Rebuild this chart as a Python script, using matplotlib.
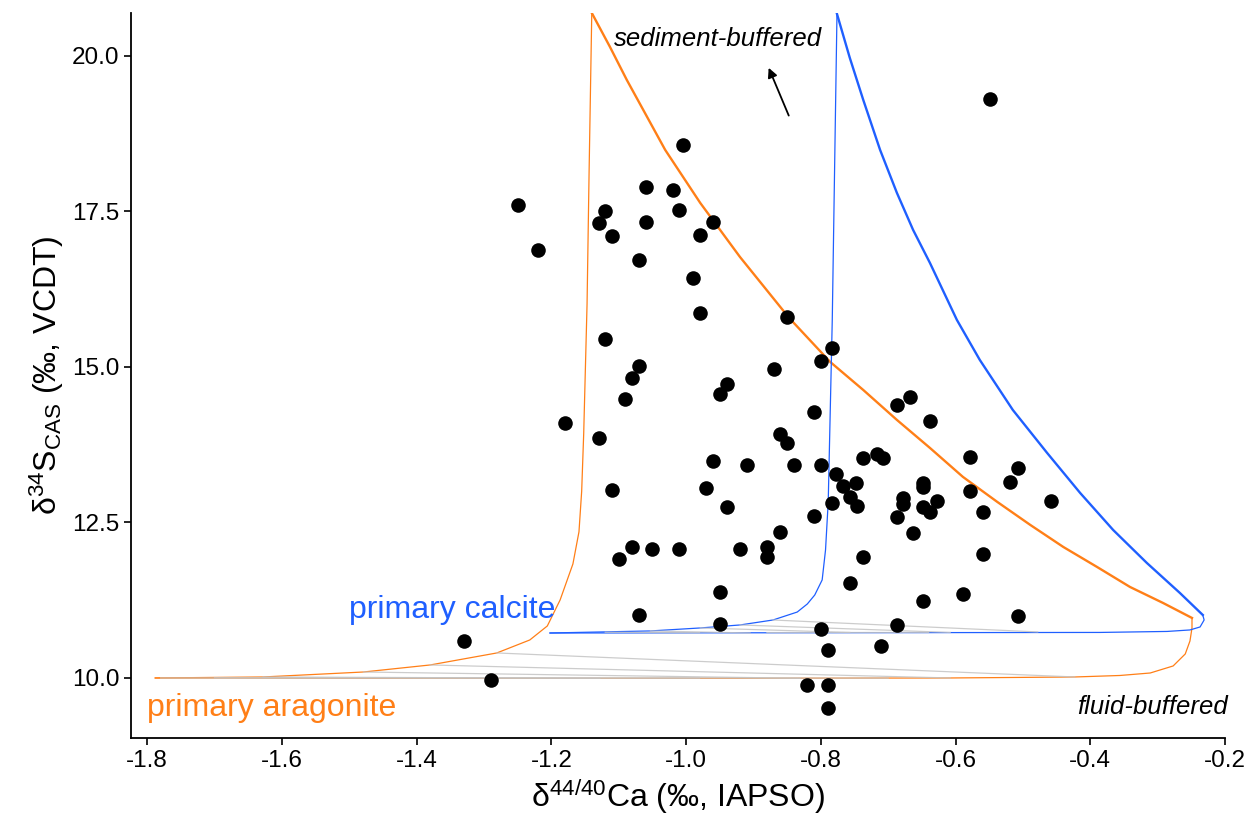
import matplotlib
matplotlib.use("Agg")
import matplotlib.pyplot as plt

plt.rcParams["font.family"] = ["Liberation Sans", "DejaVu Sans"]
plt.rcParams["mathtext.default"] = "regular"

# -----------------------------------------------------
# measured samples
# -----------------------------------------------------
ca_values = [-1.25, -1.22, -1.18, -1.33, -1.29, -1.13, -1.12, -1.11, -1.12, -1.13,
             -1.11, -1.09, -1.08, -1.07, -1.07, -1.06, -1.06, -1.02, -1.01, -1.005,
             -0.98, -0.96, -0.99, -0.98, -0.95, -0.94, -0.96, -0.97, -0.94, -0.91,
             -1.08, -1.05, -1.10, -1.07, -1.01, -0.95, -0.95, -0.92, -0.88, -0.88,
             -0.86, -0.87, -0.86, -0.85, -0.84, -0.85, -0.80, -0.783, -0.81, -0.80,
             -0.81, -0.783, -0.777, -0.767, -0.748, -0.757, -0.746, -0.737, -0.717, -0.708,
             -0.737, -0.757, -0.80, -0.79, -0.82, -0.79, -0.79, -0.71, -0.687, -0.687,
             -0.667, -0.687, -0.678, -0.678, -0.663, -0.648, -0.648, -0.648, -0.638, -0.627,
             -0.638, -0.648, -0.589, -0.578, -0.578, -0.559, -0.559, -0.549, -0.519, -0.507,
             -0.507, -0.458]
s_values = [17.60, 16.88, 14.10, 10.60, 9.97, 17.32, 17.50, 17.10, 15.45, 13.85,
            13.02, 14.48, 14.82, 15.01, 16.72, 17.90, 17.33, 17.85, 17.52, 18.57,
            17.12, 17.33, 16.43, 15.87, 14.57, 14.72, 13.48, 13.05, 12.75, 13.43,
            12.10, 12.07, 11.92, 11.02, 12.07, 11.38, 10.87, 12.07, 12.10, 11.95,
            12.35, 14.97, 13.93, 13.77, 13.42, 15.80, 15.10, 15.31, 14.28, 13.42,
            12.60, 12.81, 13.28, 13.09, 13.13, 12.91, 12.76, 13.54, 13.60, 13.54,
            11.95, 11.53, 10.78, 10.45, 9.88, 9.88, 9.52, 10.52, 10.85, 14.39,
            14.52, 12.59, 12.89, 12.80, 12.33, 13.13, 13.07, 12.75, 12.67, 12.85,
            14.13, 11.24, 11.35, 13.55, 13.01, 12.67, 12.00, 19.31, 13.15, 13.38,
            11.00, 12.85]

# -----------------------------------------------------
# model curves (primary aragonite, orange)
# -----------------------------------------------------
arag_left_x = [-1.788, -1.628, -1.479, -1.380, -1.281, -1.232, -1.206, -1.187, -1.168,
               -1.159, -1.155, -1.152, -1.147, -1.144, -1.140]
arag_left_y = [10.000, 10.016, 10.096, 10.209, 10.402, 10.611, 10.836, 11.254, 11.833,
               12.350, 13.000, 13.923, 16.013, 18.119, 20.691]
arag_top_x = [-0.249, -0.292, -0.341, -0.390, -0.440, -0.489, -0.538, -0.589, -0.638,
              -0.687, -0.737, -0.786, -0.847, -0.920, -0.979, -1.031, -1.088, -1.113,
              -1.140]
arag_top_y = [10.965, 11.206, 11.463, 11.785, 12.106, 12.460, 12.830, 13.232, 13.698,
              14.148, 14.630, 15.080, 15.788, 16.768, 17.637, 18.489, 19.614, 20.145,
              20.691]
arag_bot_x = [-1.788, -1.424, -0.979, -0.608, -0.423, -0.356, -0.311, -0.277, -0.259,
              -0.252, -0.249, -0.249]
arag_bot_y = [10.000, 9.995, 9.995, 10.000, 10.016, 10.040, 10.080, 10.193, 10.386,
              10.595, 10.804, 10.965]

# -----------------------------------------------------
# model curves (primary calcite, blue)
# -----------------------------------------------------
calc_left_x = [-1.202, -1.053, -0.979, -0.920, -0.871, -0.835, -0.820, -0.809, -0.798,
               -0.793, -0.789, -0.783, -0.776]
calc_left_y = [10.723, 10.756, 10.804, 10.852, 10.932, 11.060, 11.190, 11.334, 11.576,
               12.058, 12.830, 15.756, 20.675]
calc_top_x = [-0.233, -0.267, -0.316, -0.366, -0.415, -0.464, -0.515, -0.564, -0.598,
              -0.638, -0.663, -0.687, -0.712, -0.737, -0.757, -0.776]
calc_top_y = [11.013, 11.367, 11.849, 12.379, 12.974, 13.617, 14.309, 15.113, 15.756,
              16.672, 17.203, 17.797, 18.489, 19.293, 19.970, 20.675]
calc_bot_x = [-1.202, -0.386, -0.286, -0.252, -0.237, -0.231, -0.233]
calc_bot_y = [10.723, 10.732, 10.748, 10.772, 10.820, 10.932, 11.013]

# grey isolines: (x0, y0, x1, y1)
grey_arag = [(-1.281, 10.402, -0.423, 10.016), (-1.380, 10.209, -0.608, 10.000),
             (-1.479, 10.096, -0.831, 9.995), (-1.628, 10.016, -1.128, 9.995),
             (-1.780, 10.000, -0.980, 9.998), (-1.700, 10.003, -0.700, 9.998)]
grey_calc = [(-0.871, 10.932, -0.478, 10.740), (-0.920, 10.852, -0.608, 10.732),
             (-0.979, 10.804, -0.757, 10.732), (-1.053, 10.756, -0.905, 10.723),
             (-1.120, 10.735, -0.980, 10.727), (-0.880, 10.730, -0.640, 10.732)]

x_ticks = [-1.8, -1.6, -1.4, -1.2, -1.0, -0.8, -0.6, -0.4, -0.2]
x_tick_labels = ["-1.8", "-1.6", "-1.4", "-1.2", "-1.0", "-0.8", "-0.6", "-0.4", "-0.2"]
y_ticks = [10.0, 12.5, 15.0, 17.5, 20.0]
y_tick_labels = ["10.0", "12.5", "15.0", "17.5", "20.0"]

ORANGE = "#FF7F17"
BLUE = "#1F5FFF"

fig = plt.figure(figsize=(12.6, 8.19), dpi=100)
ax = fig.add_axes([131 / 1260, 1 - 738 / 819, 1094 / 1260, 725 / 819])

ax.plot(arag_left_x, arag_left_y, color=ORANGE, lw=0.9)
ax.plot(arag_bot_x, arag_bot_y, color=ORANGE, lw=0.9)
ax.plot(arag_top_x, arag_top_y, color=ORANGE, lw=1.7)
ax.plot(calc_left_x, calc_left_y, color=BLUE, lw=0.9)
ax.plot(calc_bot_x, calc_bot_y, color=BLUE, lw=0.9)
ax.plot(calc_top_x, calc_top_y, color=BLUE, lw=1.7)

for x0, y0, x1, y1 in grey_arag + grey_calc:
    ax.plot([x0, x1], [y0, y1], color="#c4c4c4", lw=0.9, alpha=0.85)

ax.scatter(ca_values, s_values, s=110, color="black", zorder=5, linewidths=0)

ax.text(-0.953, 20.28, "sediment-buffered", style="italic", fontsize=18.5,
        ha="center", va="center")
ax.annotate("", xy=(-0.879, 19.85), xytext=(-0.846, 19.0),
            arrowprops=dict(arrowstyle="-|>", color="black", lw=1.3,
                            mutation_scale=14))
ax.text(-0.196, 9.53, "fluid-buffered", style="italic", fontsize=18.5,
        ha="right", va="center", clip_on=False)
ax.text(-1.50, 11.09, "primary calcite", color=BLUE, fontsize=23,
        ha="left", va="center")
ax.text(-1.80, 9.52, "primary aragonite", color=ORANGE, fontsize=23,
        ha="left", va="center")

ax.set_xlim(-1.824, -0.2)
ax.set_ylim(9.035, 20.69)
ax.set_xticks(x_ticks)
ax.set_xticklabels(x_tick_labels)
ax.set_yticks(y_ticks)
ax.set_yticklabels(y_tick_labels)
ax.tick_params(labelsize=17.5, length=5, width=1.2, colors="black")
ax.spines["top"].set_visible(False)
ax.spines["right"].set_visible(False)
ax.spines["left"].set_linewidth(1.3)
ax.spines["bottom"].set_linewidth(1.3)

ax.set_xlabel("δ$^{44/40}$Ca (‰, IAPSO)", fontsize=23)
ax.set_ylabel("δ$^{34}$S$_{CAS}$ (‰, VCDT)", fontsize=23)

fig.savefig("out.png", dpi=100)
